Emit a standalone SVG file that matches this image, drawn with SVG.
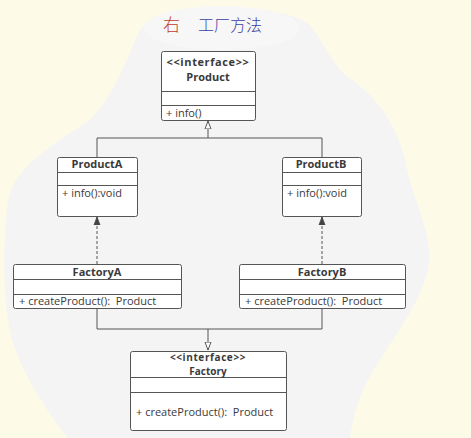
<svg xmlns="http://www.w3.org/2000/svg" width="471" height="438" viewBox="0 0 471 438">
<defs>
<style>
.box{fill:#ffffff;stroke:#555555;stroke-width:1}
.div{stroke:#555555;stroke-width:1}
.t{font-family:"Open Sans","Noto Sans",sans-serif;font-size:11px;fill:#3a3a3a}
.b{font-weight:bold;text-anchor:middle}
.sp{letter-spacing:0.6px}
.sm{font-size:10px}
.edge{fill:none;stroke:#555555;stroke-width:1}
.dash{stroke-dasharray:3,2}
</style>
<marker id="tri" markerUnits="userSpaceOnUse" markerWidth="10" markerHeight="10" refX="8" refY="4" orient="auto">
<path d="M0,1 L8,4 L0,7 Z" fill="#ffffff" stroke="#555555" stroke-width="1"/>
</marker>
<marker id="arr" markerUnits="userSpaceOnUse" markerWidth="10" markerHeight="10" refX="8" refY="4" orient="auto">
<path d="M0,1 L8,4 L0,7 Z" fill="#444444" stroke="#444444" stroke-width="0.8"/>
</marker>
</defs>
<rect x="0" y="0" width="471" height="438" fill="#fdfbe7"/>
<path d="M140,30 C160,5 280,0 310,25 C325,45 330,60 345,75 C375,95 395,120 405,160 C412,200 435,235 428,270 C418,310 390,340 368,380 C355,405 352,425 350,438 L68,438 C50,415 25,380 12,340 C2,300 3,240 8,200 C15,165 60,140 90,120 C115,95 128,55 140,30 Z" fill="#f4f4f5"/>
<ellipse cx="222" cy="28" rx="78" ry="22" fill="#f7f7f7"/>
<g id="title">
<text x="163" y="31" font-family="'Noto Sans CJK SC',sans-serif" font-size="17" font-weight="300" fill="#c0392b">右</text>
<text x="198" y="31" font-family="'Noto Sans CJK SC',sans-serif" font-size="16" font-weight="300" fill="#3b3fa0">工厂方法</text>
</g>
<g id="connectors">
<path class="edge" d="M97,157 V138 H322 V157"/>
<path class="edge" d="M208,138 V121" marker-end="url(#tri)"/>
<path class="edge" d="M97,308 V329 H322 V308"/>
<path class="edge" d="M208,329 V350" marker-end="url(#tri)"/>
<path class="edge dash" d="M97,264 V217" marker-end="url(#arr)"/>
<path class="edge dash" d="M322,264 V217" marker-end="url(#arr)"/>
</g>
<g id="Product">
<rect class="box" x="161.5" y="51.5" width="94" height="69" rx="2"/>
<line class="div" x1="161.5" y1="91.5" x2="255.5" y2="91.5"/>
<line class="div" x1="161.5" y1="105.5" x2="255.5" y2="105.5"/>
<text class="t b sp" x="208" y="66">&lt;&lt;interface&gt;&gt;</text>
<text class="t b" x="208" y="81">Product</text>
<text class="t" x="166" y="117">+ info()</text>
</g>
<g id="ProductA">
<rect class="box" x="57.5" y="157.5" width="80" height="59" rx="2"/>
<line class="div" x1="57.5" y1="172.5" x2="137.5" y2="172.5"/>
<line class="div" x1="57.5" y1="185.5" x2="137.5" y2="185.5"/>
<text class="t b" x="97" y="168">ProductA</text>
<text class="t" x="62" y="197">+ info():void</text>
</g>
<g id="ProductB">
<rect class="box" x="282.5" y="157.5" width="79" height="59" rx="2"/>
<line class="div" x1="282.5" y1="172.5" x2="361.5" y2="172.5"/>
<line class="div" x1="282.5" y1="185.5" x2="361.5" y2="185.5"/>
<text class="t b" x="321" y="168">ProductB</text>
<text class="t" x="287" y="197">+ info():void</text>
</g>
<g id="FactoryA">
<rect class="box" x="13.5" y="264.5" width="168" height="44" rx="2"/>
<line class="div" x1="13.5" y1="279.5" x2="181.5" y2="279.5"/>
<line class="div" x1="13.5" y1="294.5" x2="181.5" y2="294.5"/>
<text class="t b" x="97" y="276">FactoryA</text>
<text class="t" x="19" y="305" xml:space="preserve">+ createProduct():  Product</text>
</g>
<g id="FactoryB">
<rect class="box" x="239.5" y="264.5" width="166" height="44" rx="2"/>
<line class="div" x1="239.5" y1="279.5" x2="405.5" y2="279.5"/>
<line class="div" x1="239.5" y1="294.5" x2="405.5" y2="294.5"/>
<text class="t b" x="322" y="276">FactoryB</text>
<text class="t" x="245" y="305" xml:space="preserve">+ createProduct():  Product</text>
</g>
<g id="Factory">
<rect class="box" x="130.5" y="351.5" width="156" height="79" rx="2"/>
<line class="div" x1="130.5" y1="377.5" x2="286.5" y2="377.5"/>
<line class="div" x1="130.5" y1="392.5" x2="286.5" y2="392.5"/>
<text class="t b sp sm" x="208" y="361">&lt;&lt;interface&gt;&gt;</text>
<text class="t b sm" x="208" y="375">Factory</text>
<text class="t" x="136" y="416" xml:space="preserve">+ createProduct():  Product</text>
</g>
</svg>
